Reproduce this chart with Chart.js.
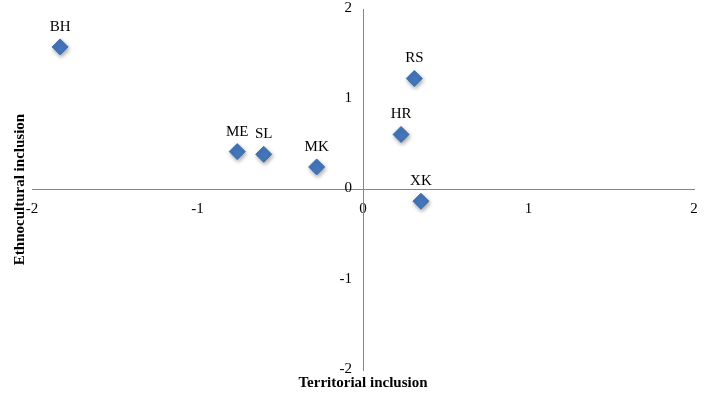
<!DOCTYPE html>
<html>
<head>
<meta charset="utf-8">
<script src="https://cdn.jsdelivr.net/npm/chart.js@4/dist/chart.umd.min.js"></script>
<style>
  html, body { margin: 0; padding: 0; background: #fff; }
  #wrap { width: 710px; height: 398px; position: relative; }
</style>
</head>
<body>
<div id="wrap"><canvas id="chart"></canvas></div>
<script>
// country codes and their scores
const codes = ['BH', 'ME', 'SL', 'MK', 'HR', 'RS', 'XK'];
const territorial = [-1.83, -0.76, -0.60, -0.28, 0.23, 0.31, 0.35];
const ethnocultural = [1.58, 0.42, 0.39, 0.25, 0.61, 1.23, -0.13];
const xTicks = [-2, -1, 0, 1, 2];
const yTicks = [-2, -1, 0, 1, 2];

const points = codes.map((c, i) => ({ x: territorial[i], y: ethnocultural[i] }));

const serif = '"Liberation Serif", "Times New Roman", serif';

// soft shadow under the diamonds
const shadowPlugin = {
    id: 'shadow',
    beforeDatasetDraw(chart) {
        const ctx = chart.ctx;
        ctx.save();
        ctx.shadowColor = 'rgba(0,0,0,0.35)';
        ctx.shadowBlur = 4;
        ctx.shadowOffsetX = 1;
        ctx.shadowOffsetY = 2;
    },
    afterDatasetDraw(chart) {
        chart.ctx.restore();
    }
};

// point labels, y tick labels (centered axis ignores padding) and axis titles
const labelPlugin = {
    id: 'labels',
    afterDraw(chart) {
        const ctx = chart.ctx;
        const meta = chart.getDatasetMeta(0);
        ctx.save();
        ctx.fillStyle = '#000';
        ctx.font = '15px ' + serif;
        ctx.textAlign = 'center';
        ctx.textBaseline = 'alphabetic';
        meta.data.forEach((el, i) => {
            ctx.fillText(codes[i], el.x, el.y - 16);
        });

        const yScale = chart.scales.y;
        const axisX = chart.scales.x.getPixelForValue(0);
        ctx.textAlign = 'right';
        ctx.textBaseline = 'middle';
        yTicks.forEach(v => {
            ctx.fillText(String(v), axisX - 11, yScale.getPixelForValue(v) - 1);
        });

        const area = chart.chartArea;
        ctx.textAlign = 'center';
        ctx.textBaseline = 'alphabetic';
        ctx.font = 'bold 15px ' + serif;
        ctx.fillText('Territorial inclusion', (area.left + area.right) / 2, 387);

        ctx.translate(24, (area.top + area.bottom) / 2);
        ctx.rotate(-Math.PI / 2);
        ctx.fillText('Ethnocultural inclusion', 0, 0);
        ctx.restore();
    }
};

const axisColor = '#868686';

// tick labels may overflow the plot edge, like in Excel
function noEdgePadding(axis) {
    axis.paddingTop = 0;
    axis.paddingBottom = 0;
    axis.paddingLeft = 0;
    axis.paddingRight = 0;
}

new Chart(document.getElementById('chart'), {
    type: 'scatter',
    data: {
        datasets: [{
            label: 'Inclusion',
            data: points,
            pointStyle: 'rectRot',
            pointRadius: 8,
            pointHoverRadius: 8,
            backgroundColor: '#4477bb',
            borderColor: '#3d6fb0',
            borderWidth: 1
        }]
    },
    options: {
        responsive: true,
        maintainAspectRatio: false,
        animation: false,
        events: [],
        layout: {
            padding: { left: 32, right: 16, top: 5, bottom: 28 }
        },
        scales: {
            x: {
                type: 'linear',
                position: { y: 0 },
                min: -2,
                max: 2,
                afterBuildTicks: axis => { axis.ticks = xTicks.map(v => ({ value: v })); },
                afterFit: noEdgePadding,
                grid: { display: false },
                border: { display: true, color: axisColor, width: 1 },
                ticks: {
                    color: '#000',
                    font: { family: serif, size: 15 },
                    maxRotation: 0
                }
            },
            y: {
                type: 'linear',
                position: { x: 0 },
                min: -2,
                max: 2,
                afterBuildTicks: axis => { axis.ticks = yTicks.map(v => ({ value: v })); },
                afterFit: noEdgePadding,
                grid: { display: false },
                border: { display: true, color: axisColor, width: 1 },
                ticks: { display: false }
            }
        },
        plugins: {
            legend: { display: false },
            tooltip: { enabled: false }
        }
    },
    plugins: [shadowPlugin, labelPlugin]
});
</script>
</body>
</html>
